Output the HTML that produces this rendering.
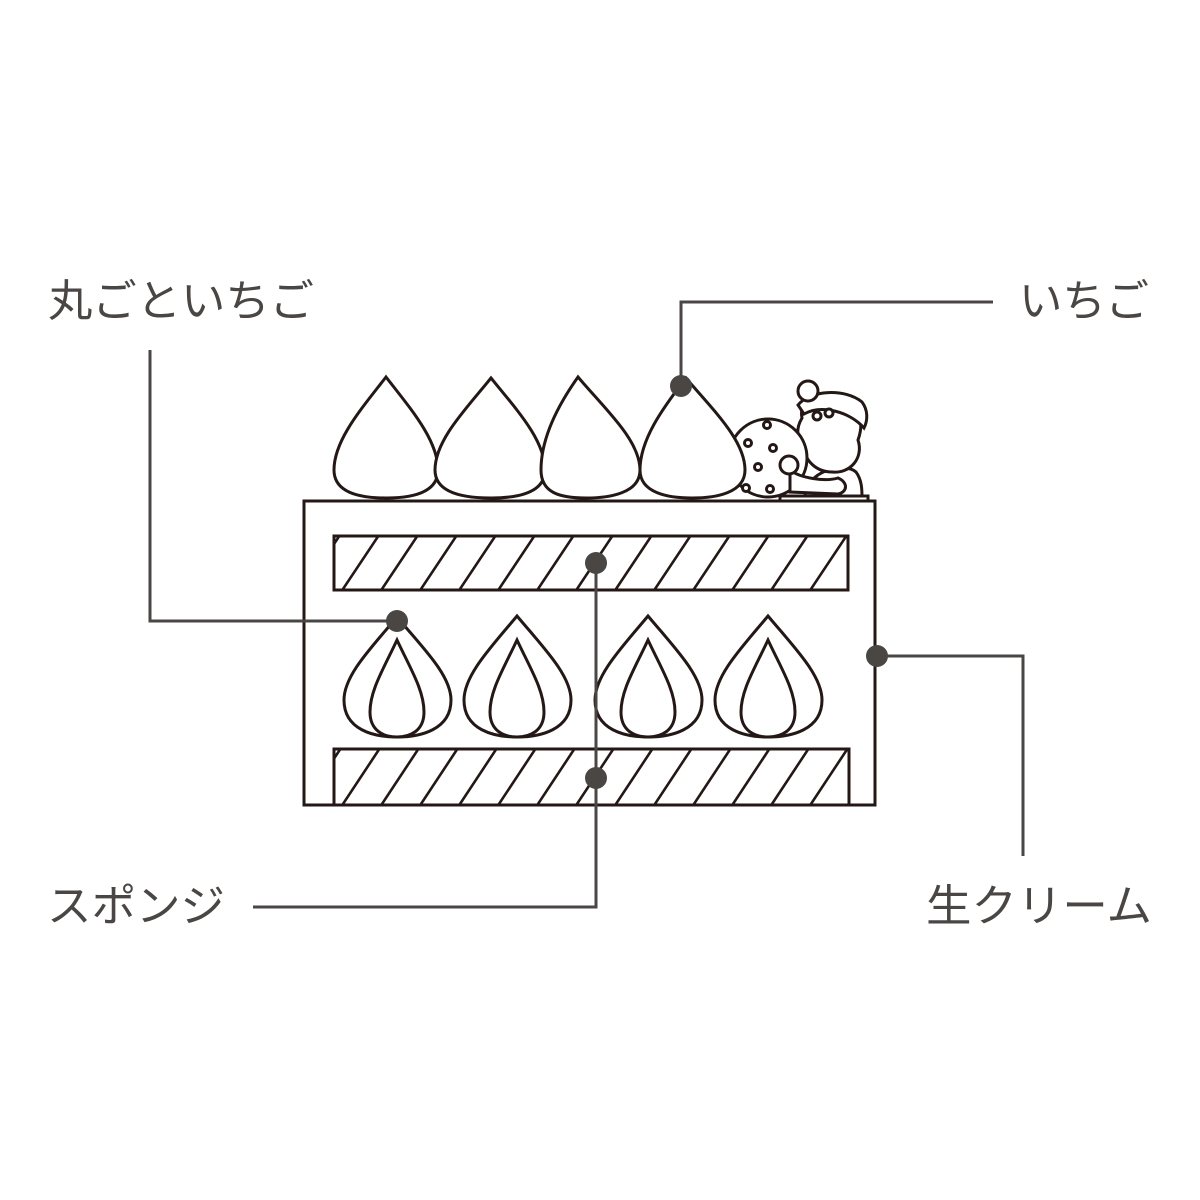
<!DOCTYPE html>
<html><head><meta charset="utf-8"><style>
html,body{margin:0;padding:0;background:#fff}
svg{display:block}
text{font-family:"Liberation Sans","Noto Sans CJK JP",sans-serif;fill:#4a4644;font-size:44px}
</style></head><body>
<svg width="1200" height="1200" viewBox="0 0 1200 1200" xmlns="http://www.w3.org/2000/svg">
<defs>
<clipPath id="s1"><rect x="334" y="536" width="514" height="54"/></clipPath>
<clipPath id="s2"><rect x="334" y="749" width="515" height="55"/></clipPath>
</defs>
<g fill="none" stroke="#231815" stroke-width="3">
<rect x="304" y="501" width="571" height="304" fill="#fff"/>
<rect x="334" y="536" width="514" height="54"/>
<rect x="334" y="749" width="515" height="56"/>
<g clip-path="url(#s1)" stroke-width="2.6">
<path d="M300,595 l40,-60 M339,595 l40,-60 M378,595 l40,-60 M417,595 l40,-60 M456,595 l40,-60 M495,595 l40,-60 M534,595 l40,-60 M573,595 l40,-60 M612,595 l40,-60 M651,595 l40,-60 M690,595 l40,-60 M729,595 l40,-60 M768,595 l40,-60 M807,595 l40,-60 M846,595 l40,-60"/>
</g>
<g clip-path="url(#s2)" stroke-width="2.6">
<path d="M300,810 l41,-62 M339,810 l41,-62 M378,810 l41,-62 M417,810 l41,-62 M456,810 l41,-62 M495,810 l41,-62 M534,810 l41,-62 M573,810 l41,-62 M612,810 l41,-62 M651,810 l41,-62 M690,810 l41,-62 M729,810 l41,-62 M768,810 l41,-62 M807,810 l41,-62 M846,810 l41,-62"/>
</g>
<!-- santa -->
<g fill="#fff">
<path d="M805,498 C805,470 845,462 856,472 C862,480 862,490 862,498 Z"/>
<path d="M802,418 C798,400 818,390 836,394 C856,398 866,418 858,440 C864,458 850,474 832,472 C816,472 804,460 804,446 C796,440 796,428 802,418 Z"/>
<path d="M798,405 C810,390 845,388 862,402 C868,410 868,420 864,428 C850,412 822,404 804,414 Z"/>
<circle cx="808" cy="391" r="10"/>
<circle cx="768" cy="458" r="39"/>
<circle cx="767" cy="425" r="3.5"/><circle cx="748" cy="443" r="3.5"/><circle cx="773" cy="448" r="3.5"/>
<circle cx="758" cy="467" r="3.5"/><circle cx="746" cy="488" r="3.5"/><circle cx="770" cy="489" r="3.5"/>
<path d="M790,470 C800,478 825,482 838,478 C848,482 848,492 838,494 L790,492 Z"/>
<circle cx="789" cy="465" r="9"/>
<path d="M780,496 L868,496 L868,501 L780,501 Z"/>
<circle cx="817" cy="416" r="4"/><circle cx="829" cy="413" r="4"/>
</g>
<!-- top strawberries -->
<g fill="#fff">
<path d="M386,377 C410,408 438,440 438,470 C438,493 412,498 386,498 C360,498 334,493 334,470 C334,440 362,408 386,377 Z"/>
<path d="M491,378 C516,409 545,440 545,470 C545,493 518,498 491,498 C464,498 435,493 435,470 C435,440 466,409 491,378 Z"/>
<path d="M578,377 C604,408 640,440 640,470 C640,493 610,498 586,498 C560,498 541,493 541,470 C541,440 556,408 578,377 Z"/>
<path d="M686,378 C712,409 745,440 745,470 C745,493 716,498 692,498 C668,498 640,493 640,470 C640,440 662,409 686,378 Z"/>
</g>
<!-- middle strawberries -->
<g fill="#fff" id="mid">
<path d="M397,617 C422,647 451,675 451,700 C451,730 420,737 397,737 C374,737 344,730 344,700 C344,675 372,647 397,617 Z"/>
<path d="M397,640 C410,668 424,690 424,712 C424,731 410,737 397,737 C384,737 370,731 370,712 C370,690 384,668 397,640 Z"/>
<path d="M517,616 C542,646 571,675 571,700 C571,730 540,737 517,737 C494,737 464,730 464,700 C464,675 492,646 517,616 Z"/>
<path d="M517,640 C530,668 544,690 544,712 C544,731 530,737 517,737 C504,737 490,731 490,712 C490,690 504,668 517,640 Z"/>
<path d="M648,616 C673,646 702,675 702,700 C702,730 671,737 648,737 C625,737 595,730 595,700 C595,675 623,646 648,616 Z"/>
<path d="M648,640 C661,668 675,690 675,712 C675,731 661,737 648,737 C635,737 621,731 621,712 C621,690 635,668 648,640 Z"/>
<path d="M768,616 C793,646 822,675 822,700 C822,730 791,737 768,737 C745,737 715,730 715,700 C715,675 743,646 768,616 Z"/>
<path d="M768,640 C781,668 795,690 795,712 C795,731 781,737 768,737 C755,737 741,731 741,712 C741,690 755,668 768,640 Z"/>
</g>
</g>
<g fill="none" stroke="#4a4644" stroke-width="3">
<path d="M150,350 V621 H397"/>
<path d="M993,302 H681 V386"/>
<path d="M596,563 V907 H253"/>
<path d="M877,656 H1023 V856"/>
</g>
<g fill="#4a4644">
<circle cx="397" cy="621" r="11"/>
<circle cx="681" cy="386" r="11"/>
<circle cx="596" cy="563" r="11"/>
<circle cx="596" cy="778" r="11"/>
<circle cx="877" cy="656" r="11"/>
</g>
<text x="48" y="316" textLength="266" lengthAdjust="spacingAndGlyphs">丸ごといちご</text>
<text x="1019" y="316" textLength="130" lengthAdjust="spacingAndGlyphs">いちご</text>
<text x="47" y="921" textLength="178" lengthAdjust="spacingAndGlyphs">スポンジ</text>
<text x="926" y="921" textLength="226" lengthAdjust="spacingAndGlyphs">生クリーム</text>
</svg>
</body></html>
